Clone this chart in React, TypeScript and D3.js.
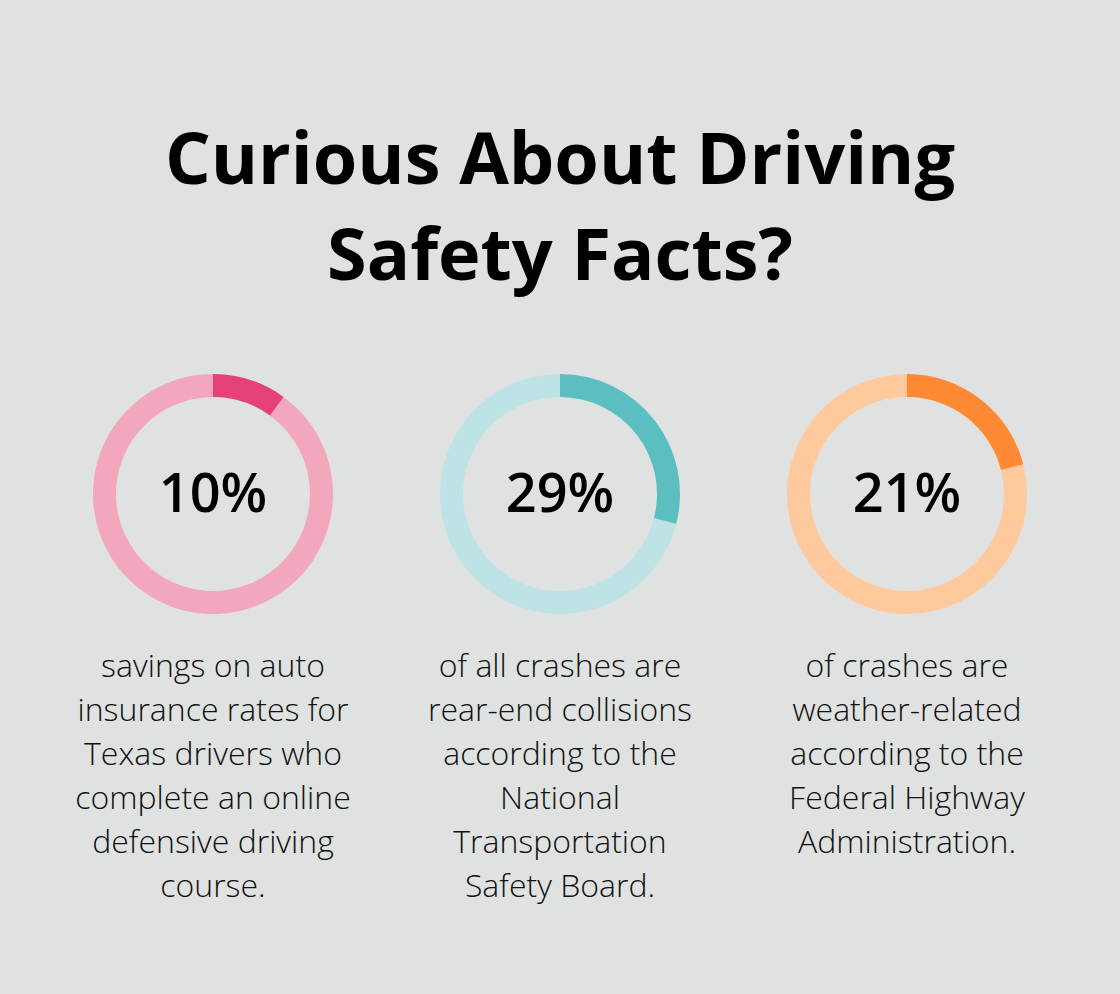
import React from "react";
import * as d3 from "d3";

const titleLines = ["Curious About Driving", "Safety Facts?"];
const percents = [10, 29, 21];
const labels = ["10%", "29%", "21%"];
const descriptions = [
  ["savings on auto", "insurance rates for", "Texas drivers who", "complete an online", "defensive driving", "course."],
  ["of all crashes are", "rear-end collisions", "according to the", "National", "Transportation", "Safety Board."],
  ["of crashes are", "weather-related", "according to the", "Federal Highway", "Administration."],
];
const darkColors = ["#e44174", "#5bbfc1", "#ff8a33"];
const lightColors = ["#f2a7bd", "#bde3e6", "#ffc99e"];

export default function App() {
  const W = 1120, H = 994;
  const x = d3.scalePoint<number>().domain([0, 1, 2]).range([213, 907]);
  const cy = 494;
  const arc = d3.arc<any>().innerRadius(97).outerRadius(120);
  const pie = d3.pie<number>().sort(null).value((d) => d);
  const font = "'Open Sans', sans-serif";
  return (
    <svg width={W} height={H} style={{ position: "absolute", left: 0, top: 0, display: "block" }}>
      <rect width={W} height={H} fill="#e0e2e1" />
      {titleLines.map((t, i) => (
        <text key={i} x={W / 2} y={184 + i * 96} textAnchor="middle" fontFamily={font} fontWeight={700} fontSize={72} fill="#000">
          {t}
        </text>
      ))}
      {percents.map((p, i) => {
        const arcs = pie([p, 100 - p]);
        return (
          <g key={i} transform={`translate(${x(i)},${cy})`}>
            <path d={arc(arcs[1]) as string} fill={lightColors[i]} />
            <path d={arc(arcs[0]) as string} fill={darkColors[i]} />
            <text x={0} y={18} textAnchor="middle" fontFamily={font} fontWeight={600} fontSize={54} fill="#000">
              {labels[i]}
            </text>
          </g>
        );
      })}
      {descriptions.map((lines, i) =>
        lines.map((l, j) => (
          <text key={`${i}-${j}`} x={x(i)} y={677 + j * 44} textAnchor="middle" fontFamily={font} fontWeight={300} fontSize={32} fill="#111">
            {l}
          </text>
        ))
      )}
    </svg>
  );
}
